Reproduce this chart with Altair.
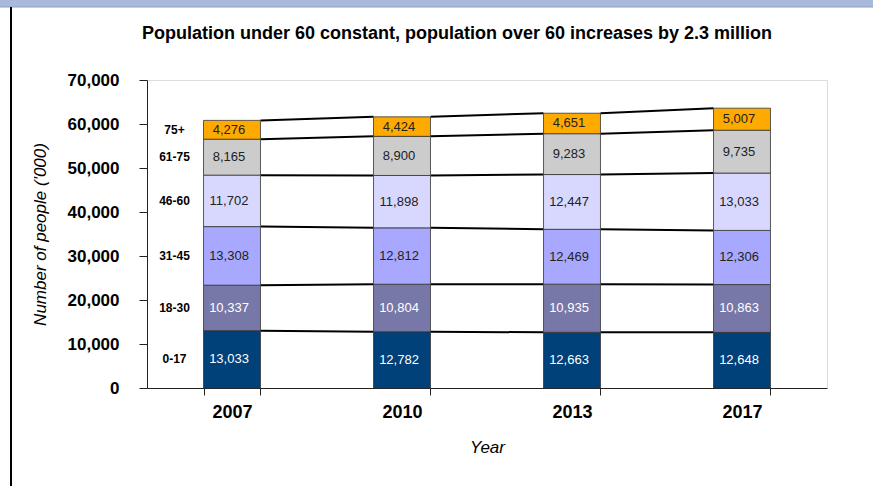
import altair as alt
import pandas as pd

years = ["2007", "2010", "2013", "2017"]
groups = ["0-17", "18-30", "31-45", "46-60", "61-75", "75+"]
values = {
    "2007": [13033, 10337, 13308, 11702, 8165, 4276],
    "2010": [12782, 10804, 12812, 11898, 8900, 4424],
    "2013": [12663, 10935, 12469, 12447, 9283, 4651],
    "2017": [12648, 10863, 12306, 13033, 9735, 5007],
}
colors = ["#00417A", "#7878A8", "#A8A8FF", "#D8D8FF", "#CCCCCC", "#FFAA00"]
text_colors = ["white", "white", "#222222", "#222222", "#222222", "#222222"]
title_text = "Population under 60 constant, population over 60 increases by 2.3 million"

rows = []
for y in years:
    cum = 0
    for i, g in enumerate(groups):
        v = values[y][i]
        rows.append({"year": y, "group": g, "order": i, "value": v,
                     "y0": cum, "y1": cum + v, "mid": cum + v / 2,
                     "label": f"{v:,}", "tcolor": text_colors[i]})
        cum += v
df = pd.DataFrame(rows)

conn = []
for a, b in zip(years[:-1], years[1:]):
    for i, g in enumerate(groups):
        ya = df[(df.year == a) & (df.group == g)].y1.iloc[0]
        yb = df[(df.year == b) & (df.group == g)].y1.iloc[0]
        conn.append({"from": a, "to": b, "ya": ya, "yb": yb})
cdf = pd.DataFrame(conn)

FONT = "Liberation Sans"

xscale = alt.Scale(domain=years, paddingInner=0.665, paddingOuter=0.3325)
yscale = alt.Scale(domain=[0, 70000], nice=False)

xaxis = alt.Axis(title="Year", tickBand="extent", labelFontSize=18, labelFontWeight="bold",
                 labelFont=FONT, labelColor="black", labelPadding=8, tickSize=7,
                 tickColor="#222", domainColor="#222", labelAngle=0,
                 titleFont=FONT, titleFontSize=17, titleFontStyle="italic",
                 titleFontWeight="normal", titleColor="black", titlePadding=18)
yaxis = alt.Axis(title="Number of people ('000)", values=list(range(0, 70001, 10000)),
                 format=",d", labelFontSize=17, labelFontWeight="bold", labelFont=FONT,
                 labelColor="black", labelPadding=20, tickSize=8, grid=False,
                 tickColor="#222", domainColor="#222",
                 titleFont=FONT, titleFontSize=17, titleFontStyle="italic",
                 titleFontWeight="normal", titleColor="black", titlePadding=18)

base = alt.Chart(df)

bars = base.mark_bar(stroke="#333333", strokeWidth=0.8).encode(
    x=alt.X("year:N", scale=xscale, axis=xaxis),
    y=alt.Y("y1:Q", scale=yscale, axis=yaxis),
    y2="y0:Q",
    color=alt.Color("group:N", scale=alt.Scale(domain=groups, range=colors), legend=None),
)

lines = alt.Chart(cdf).mark_rule(color="black", strokeWidth=2).encode(
    x=alt.X("from:N", scale=xscale, bandPosition=1, axis=xaxis),
    x2=alt.X2("to:N", bandPosition=0),
    y=alt.Y("ya:Q", scale=yscale, axis=yaxis),
    y2="yb:Q",
)

vlabels = base.mark_text(font=FONT, fontSize=13, dx=-3).encode(
    x=alt.X("year:N", scale=xscale, axis=xaxis),
    y=alt.Y("mid:Q", scale=yscale, axis=yaxis),
    text="label:N",
    color=alt.Color("tcolor:N", scale=None),
)

glabels = base.transform_filter(alt.datum.year == years[0]).mark_text(
    font=FONT, fontSize=12, fontWeight="bold", dx=-29, color="black").encode(
    x=alt.X("year:N", scale=xscale, bandPosition=0, axis=xaxis),
    y=alt.Y("mid:Q", scale=yscale, axis=yaxis),
    text="group:N",
)

deco = pd.DataFrame({"k": [0]})
band = alt.Chart(deco).mark_rect(color="#A9B9D9").encode(
    x=alt.value(-147), x2=alt.value(726), y=alt.value(-80), y2=alt.value(-73))
bandline = alt.Chart(deco).mark_rule(color="#8D9EC2", strokeWidth=1).encode(
    x=alt.value(-147), x2=alt.value(726), y=alt.value(-73))
leftline = alt.Chart(deco).mark_rule(color="black", strokeWidth=2).encode(
    x=alt.value(-136), y=alt.value(-73), y2=alt.value(406))

chart = alt.layer(band, bandline, leftline, lines, bars, vlabels, glabels).properties(
    width=680, height=308,
    title=alt.TitleParams(title_text, font=FONT, fontSize=18, fontWeight="bold",
                          color="black", anchor="middle", dx=-30, dy=81, offset=38,
                          frame="group"),
    autosize=alt.AutoSizeParams(type="none"),
    padding={"left": 147, "top": 80, "right": 46, "bottom": 98},
).configure_view(stroke="#B0B0B0", strokeWidth=1).configure(background="white")

chart.save("out.html", embed_options={"renderer": "svg", "actions": False})
